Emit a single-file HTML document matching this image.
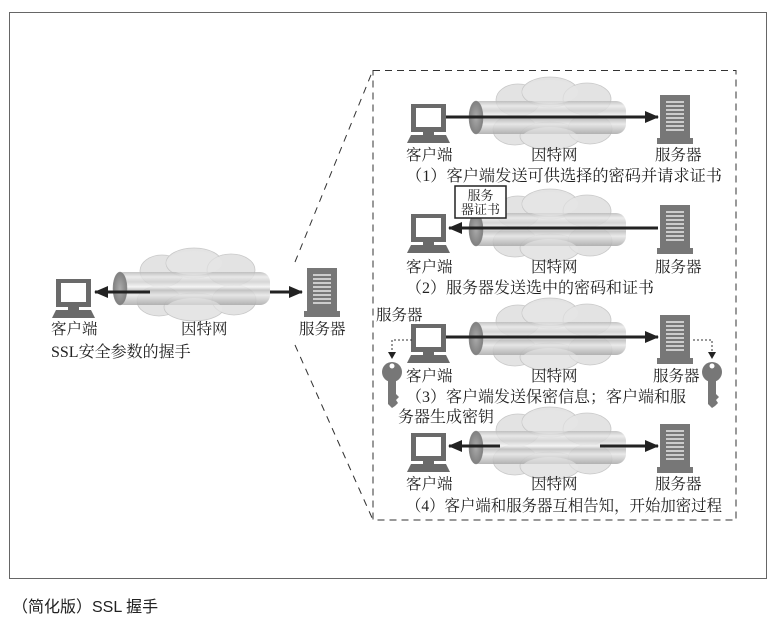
<!DOCTYPE html>
<html><head><meta charset="utf-8"><style>
body{margin:0;background:#fff;}
svg{display:block;}
text{font-family:"Liberation Serif","Noto Serif CJK SC",serif;fill:#222;}
</style></head><body>
<svg width="780" height="622" viewBox="0 0 780 622" xmlns="http://www.w3.org/2000/svg">
<defs>
<linearGradient id="pg" x1="0" y1="0" x2="0" y2="1">
<stop offset="0" stop-color="#b9b9b9"/><stop offset="0.15" stop-color="#e8e8e8"/>
<stop offset="0.3" stop-color="#cfcfcf"/><stop offset="0.45" stop-color="#f3f3f3"/>
<stop offset="0.55" stop-color="#bdbdbd"/><stop offset="0.7" stop-color="#e6e6e6"/>
<stop offset="1" stop-color="#a9a9a9"/></linearGradient>
<radialGradient id="eg" cx="0.5" cy="0.5" r="0.6"><stop offset="0" stop-color="#aaa"/><stop offset="1" stop-color="#777"/></radialGradient>
<g id="pipe">
<g fill="#e3e3e3" stroke="#c8c8c8" stroke-width="0.8">
<ellipse cx="48" cy="16" rx="22" ry="16"/><ellipse cx="80" cy="8" rx="28" ry="15"/><ellipse cx="117" cy="15" rx="24" ry="16"/>
<ellipse cx="45" cy="46" rx="22" ry="15"/><ellipse cx="80" cy="52" rx="30" ry="14"/><ellipse cx="120" cy="45" rx="22" ry="15"/>
</g>
<rect x="0" y="17" width="156" height="33" rx="10" fill="url(#pg)" opacity="0.85"/>
<ellipse cx="6" cy="33.5" rx="7" ry="16.5" fill="url(#eg)" stroke="#888" stroke-width="0.5"/>
<g fill="#e8e8e8" opacity="0.55">
<ellipse cx="80" cy="8" rx="28" ry="12"/><ellipse cx="80" cy="54" rx="28" ry="11"/>
</g>
</g>
<g id="pc">
<rect x="4" y="0" width="35" height="28" fill="#6a6a6a"/>
<rect x="9" y="4" width="25" height="19" fill="#fff"/>
<rect x="16" y="28" width="11" height="3" fill="#6a6a6a"/>
<polygon points="4,31 39,31 43,39 0,39" fill="#6a6a6a"/>
</g>
<g id="srv">
<rect x="3" y="0" width="30" height="43" fill="#777"/>
<rect x="0" y="43" width="36" height="6" fill="#777"/>
<g stroke="#fff" stroke-width="1.3">
<line x1="9" y1="7" x2="27" y2="7"/><line x1="9" y1="11" x2="27" y2="11"/><line x1="9" y1="15" x2="27" y2="15"/>
<line x1="9" y1="19" x2="27" y2="19"/><line x1="9" y1="23" x2="27" y2="23"/><line x1="9" y1="27" x2="27" y2="27"/>
<line x1="9" y1="31" x2="27" y2="31"/><line x1="9" y1="35" x2="27" y2="35"/>
</g>
</g>
<g id="key">
<circle cx="10" cy="10" r="10" fill="#777"/>
<circle cx="10" cy="4" r="2.5" fill="#fff"/>
<path d="M6 18 L14 18 L14 32 L17 35 L14 38 L16 41 L13 44 L10 46 L6 42 Z" fill="#777"/>
</g>
<marker id="ah" markerWidth="14" markerHeight="12" refX="13" refY="6" orient="auto" markerUnits="userSpaceOnUse"><path d="M0,0 L14,6 L0,12 Z" fill="#222"/></marker>
</defs>

<rect x="9.5" y="12.5" width="757" height="566" fill="none" stroke="#666" stroke-width="1"/>
<text x="12" y="612" font-size="16" style="font-family:'Liberation Sans','Noto Sans CJK SC',sans-serif">（简化版）SSL 握手</text>

<rect x="373" y="70.5" width="363" height="449.5" fill="none" stroke="#333" stroke-dasharray="7,5"/>
<line x1="295" y1="262" x2="373" y2="70" stroke="#333" stroke-dasharray="7,6"/>
<line x1="295" y1="345" x2="373" y2="520" stroke="#333" stroke-dasharray="7,6"/>

<!-- main -->
<use href="#pipe" x="114" y="255"/>
<use href="#pc" x="52" y="279"/>
<use href="#srv" x="304" y="268"/>
<line x1="270" y1="292" x2="302" y2="292" stroke="#222" stroke-width="3" marker-end="url(#ah)"/>
<line x1="150" y1="292" x2="95" y2="292" stroke="#222" stroke-width="3" marker-end="url(#ah)"/>
<text x="51" y="334" font-size="15.5">客户端</text>
<text x="181" y="334" font-size="15.5">因特网</text>
<text x="299" y="334" font-size="15.5">服务器</text>
<text x="51" y="357" font-size="16">SSL安全参数的握手</text>

<!-- row1 -->
<use href="#pipe" x="470" y="84"/>
<use href="#pc" x="407" y="104"/>
<use href="#srv" x="657" y="95"/>
<line x1="446" y1="117" x2="658" y2="117" stroke="#222" stroke-width="3" marker-end="url(#ah)"/>
<text x="406" y="160" font-size="15.5">客户端</text>
<text x="531" y="160" font-size="15.5">因特网</text>
<text x="655" y="160" font-size="15.5">服务器</text>
<text x="406" y="181" font-size="16" textLength="316" lengthAdjust="spacingAndGlyphs">（1）客户端发送可供选择的密码并请求证书</text>

<!-- row2 -->
<use href="#pipe" x="470" y="196"/>
<use href="#pc" x="407" y="214"/>
<use href="#srv" x="657" y="205"/>
<line x1="658" y1="228" x2="449" y2="228" stroke="#222" stroke-width="3" marker-end="url(#ah)"/>
<rect x="455" y="186" width="51" height="32" fill="#fff" stroke="#222" stroke-width="1.5"/>
<text x="480.5" y="200" font-size="13" text-anchor="middle">服务</text>
<text x="480.5" y="214" font-size="13" text-anchor="middle">器证书</text>
<text x="406" y="272" font-size="15.5">客户端</text>
<text x="531" y="272" font-size="15.5">因特网</text>
<text x="655" y="272" font-size="15.5">服务器</text>
<text x="406" y="293" font-size="16">（2）服务器发送选中的密码和证书</text>

<!-- row3 -->
<use href="#pipe" x="470" y="305"/>
<use href="#pc" x="407" y="324"/>
<use href="#srv" x="657" y="315"/>
<line x1="446" y1="337" x2="658" y2="337" stroke="#222" stroke-width="3" marker-end="url(#ah)"/>
<path d="M412 340 L392 340 L392 356" fill="none" stroke="#333" stroke-dasharray="2,2"/>
<path d="M388 352 L396 352 L392 359 Z" fill="#222"/>
<path d="M693 340 L712 340 L712 356" fill="none" stroke="#333" stroke-dasharray="2,2"/>
<path d="M708 352 L716 352 L712 359 Z" fill="#222"/>
<use href="#key" x="382" y="362"/>
<use href="#key" x="702" y="362"/>
<text x="376" y="320" font-size="15.5">服务器</text>
<text x="406" y="381" font-size="15.5">客户端</text>
<text x="531" y="381" font-size="15.5">因特网</text>
<text x="653" y="381" font-size="15.5">服务器</text>
<text x="406" y="402" font-size="16">（3）客户端发送保密信息；客户端和服</text>
<text x="398" y="422" font-size="16">务器生成密钥</text>

<!-- row4 -->
<use href="#pipe" x="470" y="414"/>
<use href="#pc" x="407" y="433"/>
<use href="#srv" x="657" y="424"/>
<line x1="600" y1="446" x2="658" y2="446" stroke="#222" stroke-width="3" marker-end="url(#ah)"/>
<line x1="500" y1="446" x2="449" y2="446" stroke="#222" stroke-width="3" marker-end="url(#ah)"/>
<text x="406" y="489" font-size="15.5">客户端</text>
<text x="531" y="489" font-size="15.5">因特网</text>
<text x="655" y="489" font-size="15.5">服务器</text>
<text x="406" y="511" font-size="16" textLength="316" lengthAdjust="spacingAndGlyphs">（4）客户端和服务器互相告知，开始加密过程</text>
</svg>
</body></html>
